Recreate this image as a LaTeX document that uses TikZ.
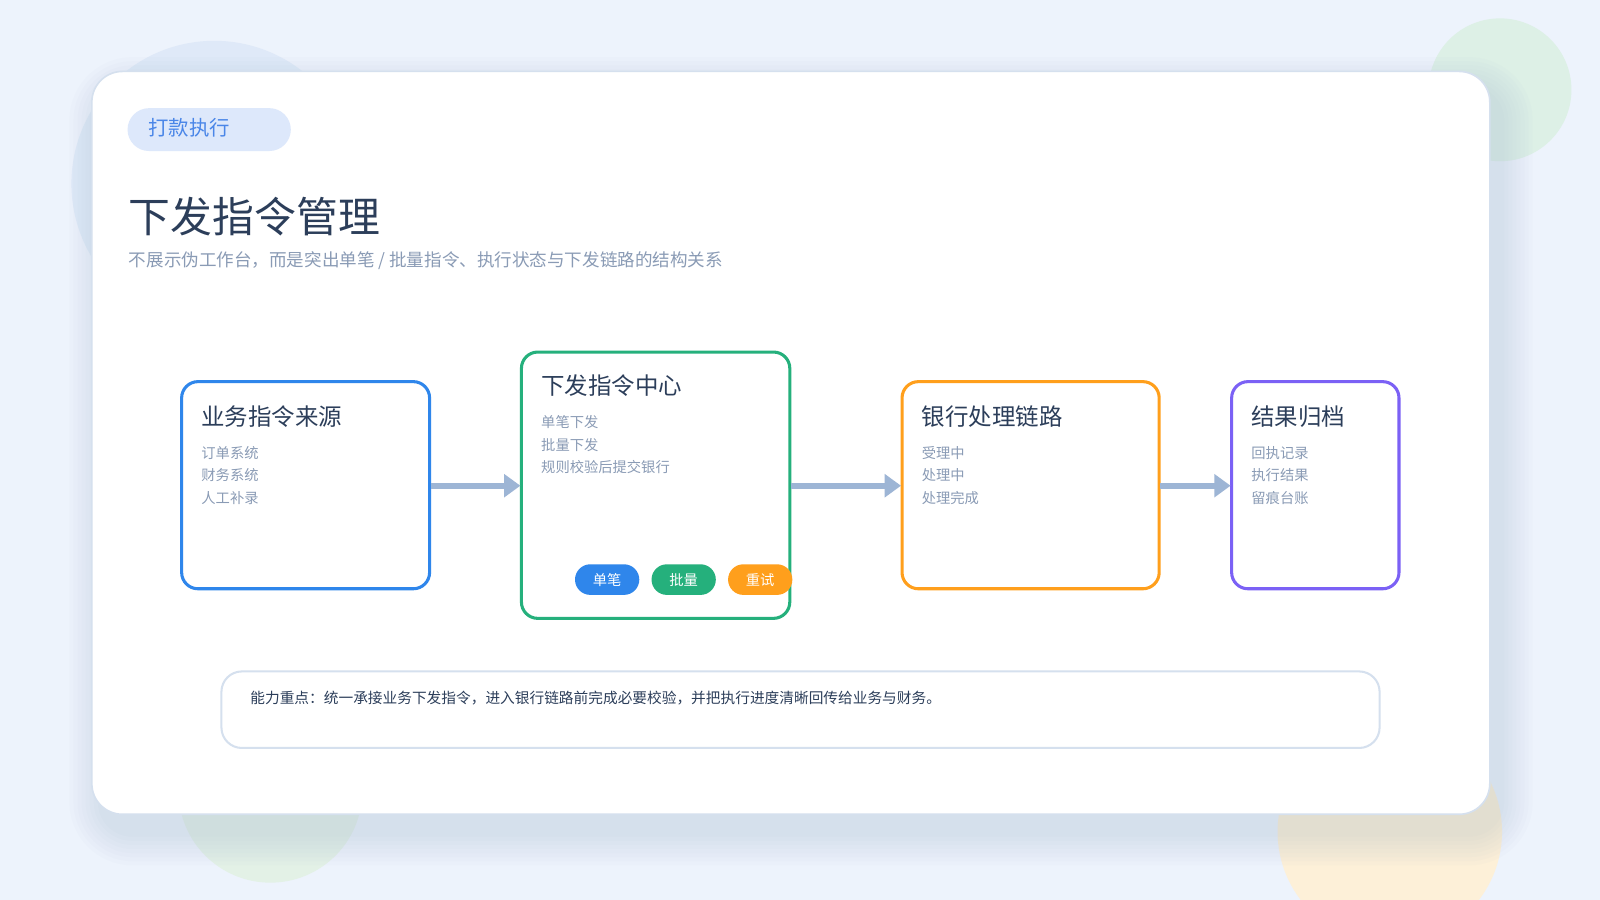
\documentclass[tikz,border=0pt]{standalone}
\usepackage{fontspec}
\setmainfont{Noto Sans CJK SC}
\usetikzlibrary{arrows.meta}
\definecolor{bg}{HTML}{EDF3FC}
\definecolor{cblue}{HTML}{2F86EB}
\definecolor{cgreen}{HTML}{25B07C}
\definecolor{corange}{HTML}{FF9F1C}
\definecolor{cpurple}{HTML}{7B61F5}
\definecolor{dark}{HTML}{2C3E5A}
\definecolor{muted}{HTML}{8A9BB5}
\definecolor{arr}{HTML}{9DB5D5}
\definecolor{edge}{HTML}{D5E0EE}
\definecolor{c1}{HTML}{DFE9F8}
\definecolor{c2}{HTML}{DDF0E6}
\definecolor{c3}{HTML}{E3F1E6}
\definecolor{c4}{HTML}{FDF0D8}
\definecolor{tagbg}{HTML}{DDE8FB}
\definecolor{tagfg}{HTML}{4A86E8}
\definecolor{shad}{HTML}{9FB2CC}
\tikzset{
 flowbox/.style={draw, line width=1.5pt, rounded corners=8pt, fill=white},
 btitle/.style={anchor=west, text=dark, font=\fontsize{11.5}{14}\selectfont, inner sep=0},
 bitem/.style={anchor=west, text=muted, font=\fontsize{7}{8}\selectfont, inner sep=0},
 badge/.style={rounded corners=7.5pt, minimum width=31.5pt, minimum height=15pt, text=white, inner sep=0, font=\fontsize{7}{8}\selectfont},
 flowarr/.style={draw=arr, line width=3pt, -{Triangle[length=8pt,width=11pt]}}
}
\begin{document}
\begin{tikzpicture}[x=0.5pt,y=-0.5pt]
\fill[bg] (0,0) rectangle (1568,882);
\useasboundingbox (0,0) rectangle (1568,882);
\fill[c1] (210,180) circle (140);
\fill[c2] (1470,88) circle (70);
\fill[c3] (265,775) circle (90);
\fill[c4] (1362,815) circle (110);
\foreach \s in {4,8,...,32}
  \fill[shad, opacity=0.035, rounded corners=15pt+\s*0.5pt] (90+10-\s,70+18-\s) rectangle (1460+10+\s,798+18+\s);
\fill[white, draw=edge, line width=0.8pt, rounded corners=15pt] (90,70) rectangle (1460,798);
\node[fill=tagbg, rounded corners=10.5pt, minimum width=80pt, minimum height=21pt, inner sep=0] (tag) at (205,127) {};
\node[anchor=west, text=tagfg, font=\fontsize{10}{12}\selectfont, inner sep=0] (tagt) at (145,125) {打款执行};
\node[anchor=west, text=dark, font=\fontsize{20.5}{24}\selectfont, inner sep=0] (title) at (126,212) {下发指令管理};
\node[anchor=west, text=muted, font=\fontsize{8.6}{10}\selectfont, inner sep=0] (sub) at (126,255) {不展示伪工作台，而是突出单笔 / 批量指令、执行状态与下发链路的结构关系};

\draw[flowbox, draw=cblue] (178,374) rectangle (421,577);
\draw[flowbox, draw=cgreen] (511,345) rectangle (774,606);
\draw[flowbox, draw=corange] (884,374) rectangle (1136,577);
\draw[flowbox, draw=cpurple] (1207,374) rectangle (1371,577);
\coordinate (b1e) at (422,476); \coordinate (b2w) at (510,476);
\coordinate (b2e) at (775,476); \coordinate (b3w) at (883,476);
\coordinate (b3e) at (1137,476); \coordinate (b4w) at (1206,476);
\draw[flowarr] (b1e) -- (b2w);
\draw[flowarr] (b2e) -- (b3w);
\draw[flowarr] (b3e) -- (b4w);

\node[btitle] (t1) at (197,408) {业务指令来源};
\node[bitem] (i11) at (197,444) {订单系统};
\node[bitem] (i12) at (197,466) {财务系统};
\node[bitem] (i13) at (197,488) {人工补录};
\node[btitle] (t2) at (530,378) {下发指令中心};
\node[bitem] (i21) at (530,414) {单笔下发};
\node[bitem] (i22) at (530,436) {批量下发};
\node[bitem] (i23) at (530,458) {规则校验后提交银行};
\node[btitle] (t3) at (903,408) {银行处理链路};
\node[bitem] (i31) at (903,444) {受理中};
\node[bitem] (i32) at (903,466) {处理中};
\node[bitem] (i33) at (903,488) {处理完成};
\node[btitle] (t4) at (1226,408) {结果归档};
\node[bitem] (i41) at (1226,444) {回执记录};
\node[bitem] (i42) at (1226,466) {执行结果};
\node[bitem] (i43) at (1226,488) {留痕台账};

\node[badge, fill=cblue] (p1) at (595,568) {单笔};
\node[badge, fill=cgreen] (p2) at (670,568) {批量};
\node[badge, fill=corange] (p3) at (745,568) {重试};

\draw[edge, line width=1pt, fill=white, rounded corners=10pt] (217,658) rectangle (1352,733);
\node[anchor=west, text=dark, font=\fontsize{7.2}{8}\selectfont, inner sep=0] (foot) at (245,684) {能力重点：统一承接业务下发指令，进入银行链路前完成必要校验，并把执行进度清晰回传给业务与财务。};
\end{tikzpicture}
\end{document}
